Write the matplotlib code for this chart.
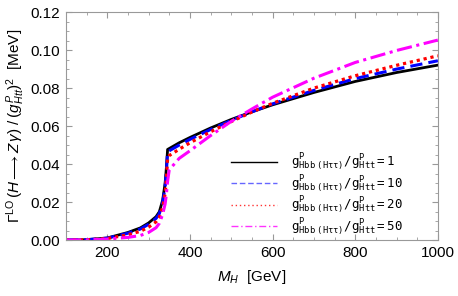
import numpy as np
import matplotlib
matplotlib.use("Agg")
import matplotlib.pyplot as plt
from matplotlib.ticker import MultipleLocator, FormatStrFormatter

plt.rcParams['font.family'] = ['Liberation Sans', 'DejaVu Sans']
plt.rcParams['mathtext.fontset'] = 'custom'
plt.rcParams['mathtext.rm'] = 'Liberation Sans'
plt.rcParams['mathtext.it'] = 'Liberation Sans:italic'
plt.rcParams['mathtext.tt'] = 'DejaVu Sans Mono'

# M_H [GeV] values (threshold at 2 m_t ~ 346 GeV)
mh = [100, 150, 200, 250, 280, 300, 318, 326, 334, 340, 343, 346,
      350, 374, 400, 450, 500, 550, 600, 700, 800, 900, 1000]

# width / (g_Htt)^2 [MeV] for g_Hbb/g_Htt = 1, 10, 20, 50
w1 = [0.0, 0.0002, 0.0011, 0.0040, 0.0064, 0.0090, 0.0123, 0.0149, 0.0210, 0.0300, 0.0380, 0.0477,
      0.0482, 0.0512, 0.0540, 0.0590, 0.0635, 0.0675, 0.0712, 0.0777, 0.0835, 0.0882, 0.0921]
w10 = [0.0, 0.0002, 0.0010, 0.0036, 0.0058, 0.0083, 0.0114, 0.0139, 0.0196, 0.0280, 0.0360, 0.0465,
       0.0470, 0.0500, 0.0530, 0.0582, 0.0630, 0.0675, 0.0717, 0.0788, 0.0850, 0.0900, 0.0944]
w20 = [0.0, 0.0001, 0.0008, 0.0028, 0.0046, 0.0068, 0.0096, 0.0120, 0.0172, 0.0245, 0.0320, 0.0430,
       0.0445, 0.0478, 0.0512, 0.0570, 0.0624, 0.0674, 0.0720, 0.0800, 0.0865, 0.0920, 0.0970]
w50 = [0.0, 0.0001, 0.0005, 0.0014, 0.0024, 0.0040, 0.0065, 0.0088, 0.0135, 0.0190, 0.0240, 0.0310,
       0.0370, 0.0430, 0.0470, 0.0550, 0.0625, 0.0690, 0.0752, 0.0852, 0.0935, 0.0998, 0.1053]

ratios = ['1', '10', '20', '50']

fig = plt.figure(figsize=(4.58, 2.96), dpi=100)
ax = fig.add_axes([0.144, 0.189, 0.812, 0.770])

ax.plot(mh, w1, color='black', lw=2.0, ls='-')
ax.plot(mh, w10, color='#0000ff', lw=2.2, ls=(0, (4, 2)))
ax.plot(mh, w20, color='#ff0000', lw=2.3, ls=(0, (1, 1.2)))
ax.plot(mh, w50, color='#ff00ff', lw=2.2, ls=(0, (5, 1.5, 1, 1.5)))

# legend handles drawn thinner, like the reference
handles = [
    plt.Line2D([], [], color='black', lw=1.0, ls='-'),
    plt.Line2D([], [], color='#6666ff', lw=1.0, ls=(0, (4, 2))),
    plt.Line2D([], [], color='#ff3333', lw=1.0, ls=(0, (1, 2))),
    plt.Line2D([], [], color='#ff33ff', lw=1.0, ls=(0, (5, 2, 1, 2))),
]
labels = [r'$\mathtt{g^{P}_{Hbb\ (H\tau\tau)}/g^{P}_{Htt}=%s}$' % r for r in ratios]
ax.legend(handles, labels, loc='upper left', bbox_to_anchor=(0.43, 0.41),
          frameon=False, fontsize=9, handlelength=3.7, handletextpad=1.1,
          labelspacing=0.0, borderaxespad=0)

ax.set_xlim(100, 1000)
ax.set_ylim(0, 0.12)
ax.xaxis.set_major_locator(MultipleLocator(200))
ax.xaxis.set_minor_locator(MultipleLocator(50))
ax.yaxis.set_major_locator(MultipleLocator(0.02))
ax.yaxis.set_minor_locator(MultipleLocator(0.005))
ax.yaxis.set_major_formatter(FormatStrFormatter('%.2f'))
ax.tick_params(which='both', direction='in', top=True, right=True,
               color='#999999', labelsize=11, pad=4)
ax.tick_params(which='major', length=4)
ax.tick_params(which='minor', length=2)
for s in ax.spines.values():
    s.set_color('#999999')

ax.set_xlabel(r'$M_H$  [GeV]', fontsize=11, labelpad=6)
ax.set_ylabel(r'$\Gamma^{\mathrm{LO}}\,(H \longrightarrow Z\,\gamma)\;/\;(g^{P}_{H t t})^{2}$  [MeV]',
              fontsize=11, labelpad=3)

fig.savefig('out.png', dpi=100)
